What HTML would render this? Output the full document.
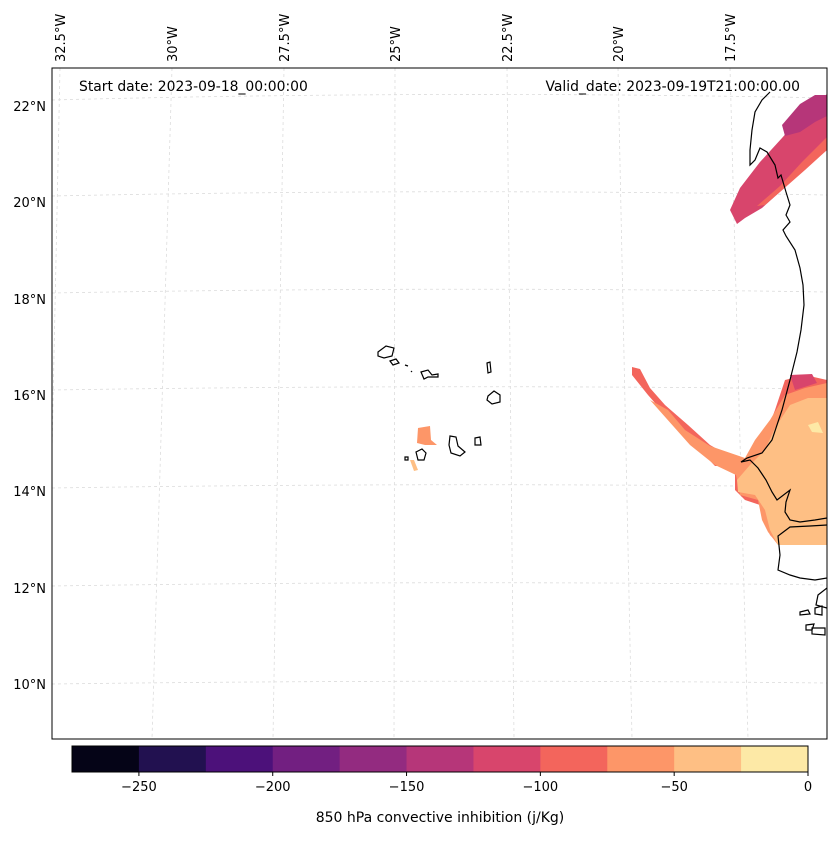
<!DOCTYPE html>
<html><head><meta charset="utf-8"><style>
body{margin:0;background:#fff;font-family:"Liberation Sans","DejaVu Sans",sans-serif}
svg text{font-family:"DejaVu Sans","Liberation Sans",sans-serif}
</style></head><body>
<svg width="837" height="836" viewBox="0 0 837 836" xmlns="http://www.w3.org/2000/svg">
<defs><clipPath id="mc"><rect x="52" y="68" width="775" height="671"/></clipPath></defs>
<rect x="0" y="0" width="837" height="836" fill="#fff"/>
<g id="grid" clip-path="url(#mc)" stroke="#dcdcdc" stroke-width="0.8" stroke-dasharray="3,3" fill="none">
<path d="M52,100 Q440,90 827,98"/><path d="M52,196 Q440,188 827,195"/><path d="M52,293 Q440,286 827,292"/>
<path d="M52,390 Q440,384 827,389"/><path d="M52,488 Q440,482 827,487"/><path d="M52,586 Q440,580 827,585"/><path d="M52,684 Q440,679 827,683"/>
<path d="M60,68 L46,739"/><path d="M172,68 L152,739"/><path d="M284,68 L273,739"/><path d="M395,68 L394,739"/>
<path d="M507,68 L514,739"/><path d="M618,68 L632,739"/><path d="M730,68 L748,739"/>
</g>
<g clip-path="url(#mc)">
<polygon points="730,210 740,188 760,162 782,138 805,112 827,94 827,150 805,168 782,190 762,208 745,218 737,224" fill="#d8456c"/>
<polygon points="782,125 800,104 815,95 827,95 827,116 815,122 800,132 785,136" fill="#b63679"/>
<polygon points="757,206 780,186 802,162 827,137 827,150 805,170 780,192 765,205" fill="#f3655c"/>
<polygon points="632,367 640,369 650,388 665,405 688,425 710,445 740,462 760,450 775,410 785,380 805,375 827,380 827,545 780,545 770,535 765,520 760,505 745,500 735,490 735,466 715,466 695,445 670,420 648,395 632,375" fill="#f3655c"/>
<polygon points="790,375 812,374 817,383 795,390" fill="#d8456c"/>
<polygon points="650,400 668,410 685,430 710,446 745,458 755,440 770,420 785,395 805,388 827,383 827,545 778,545 768,532 762,520 758,500 740,495 736,475 715,465 690,445" fill="#fd9668"/>
<polygon points="737,480 750,465 765,450 775,428 790,405 808,398 827,398 827,545 778,545 770,530 765,510 755,495 738,492" fill="#febf84"/>
<polygon points="808,425 818,422 823,433 812,432" fill="#fde9a6"/>
<polygon points="418,428 430,426 431,440 437,445 425,445 417,443" fill="#fd9668"/>
<polygon points="410,460 414,460 418,470 414,471" fill="#febf84"/>
</g>
<g clip-path="url(#mc)" fill="none" stroke="#000" stroke-width="1.2">
<path d="M770,92 L762,100 L755,112 L752,130 L750,150 L750,165 L755,160 L760,148 L767,152 L775,165 L778,178 L781,175 L786,192 L790,205 L786,215 L790,222 L783,230 L786,236 L795,250 L800,268 L803,285 L804,305 L801,330 L797,352 L790,380 L782,410 L772,440 L762,453 L747,458 L741,462 L750,460 L758,468 L766,480 L772,492 L777,500 L790,490 L786,502 L785,512 L790,520 L800,522 L815,520 L827,518"/>
<path d="M827,525 L810,526 L790,527 L778,536 L780,555 L778,570 L790,575 L800,578 L815,580 L827,578"/>
<path d="M827,588 L818,595 L816,605 L827,608"/>
<path d="M800,612 L808,610 L810,614 L800,615 Z"/><path d="M815,608 L822,606 L822,615 L815,614 Z"/>
<path d="M806,625 L814,624 L812,630 L806,630 Z M812,628 L825,628 L825,635 L812,634 Z"/>
<path d="M378,352 L386,346 L394,348 L392,356 L384,358 L378,356 Z"/>
<path d="M390,361 L396,359 L399,363 L393,365 Z"/><path d="M405,365 L408,366"/><path d="M411,371 L412,372"/>
<path d="M421,372 L428,370 L432,375 L438,374 L438,377 L428,377 L424,379 Z"/>
<path d="M487,363 L490,362 L491,372 L488,373 Z"/>
<path d="M488,396 L494,391 L500,395 L500,402 L492,404 L487,400 Z"/>
<path d="M450,436 L456,437 L458,446 L465,452 L460,456 L451,453 L449,445 Z"/>
<path d="M475,438 L480,437 L481,445 L475,445 Z"/>
<path d="M416,452 L422,449 L426,453 L424,460 L418,460 Z"/>
<path d="M405,457 L408,457 L408,460 L405,460 Z"/>
</g>
<rect x="52" y="68" width="775" height="671" fill="none" stroke="#000" stroke-width="1"/>
<g font-size="13" fill="#000">
<text x="46" y="111" text-anchor="end">22°N</text><text x="46" y="207" text-anchor="end">20°N</text><text x="46" y="304" text-anchor="end">18°N</text>
<text x="46" y="400" text-anchor="end">16°N</text><text x="46" y="496" text-anchor="end">14°N</text><text x="46" y="593" text-anchor="end">12°N</text><text x="46" y="689" text-anchor="end">10°N</text>
</g>
<g font-size="13" fill="#000">
<text transform="translate(65,62) rotate(-90)">32.5°W</text><text transform="translate(177,62) rotate(-90)">30°W</text>
<text transform="translate(289,62) rotate(-90)">27.5°W</text><text transform="translate(400,62) rotate(-90)">25°W</text>
<text transform="translate(512,62) rotate(-90)">22.5°W</text><text transform="translate(623,62) rotate(-90)">20°W</text>
<text transform="translate(735,62) rotate(-90)">17.5°W</text>
</g>
<text x="79" y="91" font-size="13.9">Start date: 2023-09-18_00:00:00</text>
<text x="800" y="91" font-size="13.9" text-anchor="end">Valid_date: 2023-09-19T21:00:00.00</text>
<g id="cbar"></g>
<text x="440" y="822" font-size="14" text-anchor="middle">850 hPa convective inhibition (j/Kg)</text>
</svg>
<script>
const levels=[-275,-250,-225,-200,-175,-150,-125,-100,-75,-50,-25,0];
const colors=["#050417","#221150","#4c117a","#721f81","#932b80","#b63679","#d8456c","#f3655c","#fd9668","#febf84","#fde9a6"];
const tickValues=[-250,-200,-150,-100,-50,0];
const tickLabels=["\u2212250","\u2212200","\u2212150","\u2212100","\u221250","0"];
const NS="http://www.w3.org/2000/svg";
const cb=document.getElementById('cbar');
const x0=72,x1=808,y0=746,h=26;
const xs=v=>x0+(v-levels[0])/(levels[levels.length-1]-levels[0])*(x1-x0);
for(let i=0;i<colors.length;i++){
 const r=document.createElementNS(NS,'rect');
 r.setAttribute('x',xs(levels[i]));r.setAttribute('y',y0);
 r.setAttribute('width',xs(levels[i+1])-xs(levels[i])+0.5);r.setAttribute('height',h);
 r.setAttribute('fill',colors[i]);
 
 
 cb.appendChild(r);
}
const fr=document.createElementNS(NS,'rect');
fr.setAttribute('x',x0);fr.setAttribute('y',y0);fr.setAttribute('width',x1-x0);fr.setAttribute('height',h);
fr.setAttribute('fill','none');fr.setAttribute('stroke','#000');fr.setAttribute('stroke-width','1');


cb.appendChild(fr);
tickValues.forEach((v,i)=>{
 const l=document.createElementNS(NS,'line');
 l.setAttribute('x1',xs(v));l.setAttribute('x2',xs(v));l.setAttribute('y1',y0+h);l.setAttribute('y2',y0+h+4);
 l.setAttribute('stroke','#000');
 
 
 cb.appendChild(l);
 const t=document.createElementNS(NS,'text');
 t.setAttribute('x',xs(v));t.setAttribute('y',y0+h+19);t.setAttribute('text-anchor','middle');t.setAttribute('font-size','13');
 t.textContent=tickLabels[i];
 
 
 cb.appendChild(t);
});
</script>
</body></html>
